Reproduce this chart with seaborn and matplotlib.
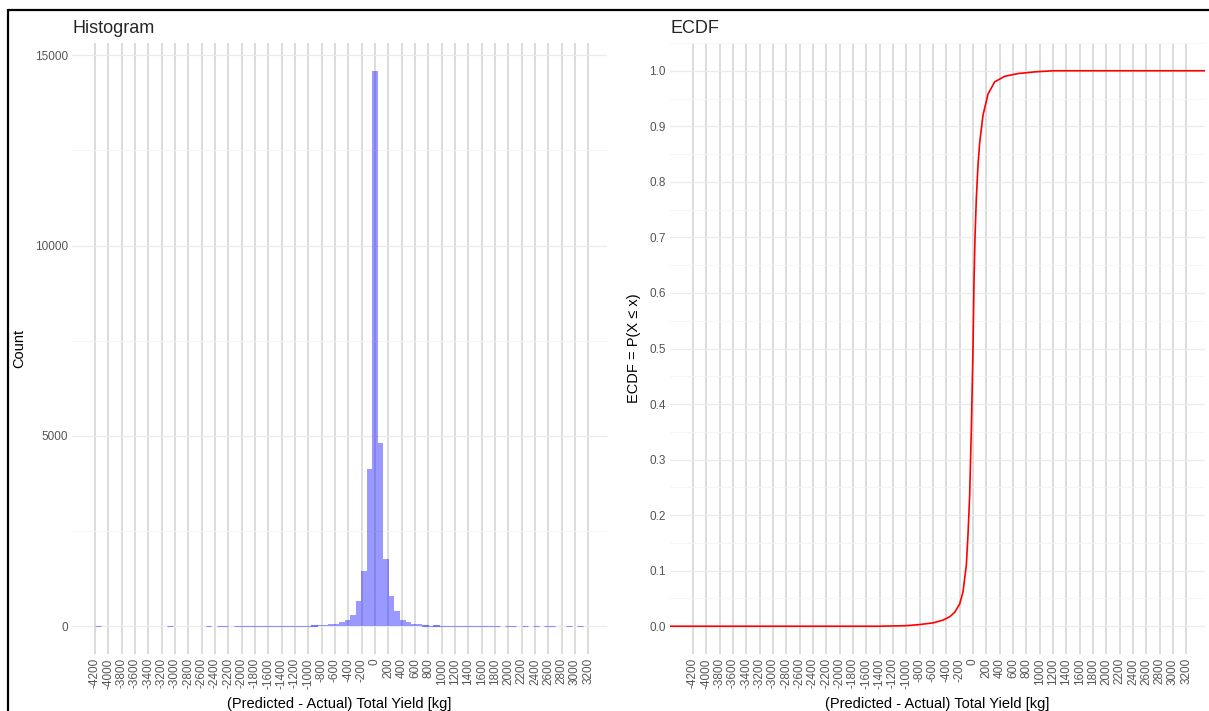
import numpy as np
import pandas as pd
import matplotlib
matplotlib.use('Agg')
import matplotlib.pyplot as plt
from matplotlib.lines import Line2D
import seaborn as sns

# Histogram: counts per bin, bins spanning the data range
hist_lo = -4200
hist_hi = 3120
hist_counts = [4, 0, 0, 0, 0, 0, 0, 0, 0, 0, 0, 0, 0, 3, 0, 0, 0, 0, 0, 0,
               3, 0, 3, 3, 0, 4, 5, 4, 6, 5, 6, 7, 8, 9, 10, 12, 13, 15, 18,
               25, 30, 40, 55, 70, 120, 170, 300, 655, 1460, 4130, 14590,
               4820, 1765, 806, 403, 170, 100, 60, 50, 25, 15, 25,
               12, 10, 9, 8, 7, 6, 5, 5, 4, 4, 3, 0, 3, 3, 0, 3, 0, 3, 0,
               3, 3, 0, 0, 3, 0, 3]

# ECDF curve
ecdf_x = [-4545, -1400, -1000, -800, -600, -450, -350, -275, -200, -150,
          -100, -75, -50, -25, 0, 15, 30, 50, 75, 100, 150, 225, 325, 475,
          675, 925, 1200, 3480]
ecdf_y = [0.0, 0.0, 0.001, 0.003, 0.006, 0.011, 0.017, 0.025, 0.04, 0.062,
          0.11, 0.165, 0.235, 0.355, 0.5, 0.62, 0.7, 0.77, 0.83, 0.87,
          0.92, 0.958, 0.98, 0.99, 0.995, 0.998, 1.0, 1.0]

x_ticks = list(range(-4200, 3201, 200))
count_ticks = [0, 5000, 10000, 15000]
count_minor = [2500, 7500, 12500]
ecdf_ticks = [round(v * 0.1, 1) for v in range(11)]
ecdf_minor = [round(0.05 + v * 0.1, 2) for v in range(10)] + [1.05]

x_label = '(Predicted - Actual) Total Yield [kg]'

sns.set_style('white')
plt.rcParams['font.family'] = ['Liberation Sans', 'DejaVu Sans']

W, H = 1209, 711
fig = plt.figure(figsize=(W / 100, H / 100), dpi=100)

ax1 = fig.add_axes([72 / W, 1 - 654 / H, 535 / W, 611 / H])
ax2 = fig.add_axes([670 / W, 1 - 654 / H, 535 / W, 611 / H])


def style_axis(ax, yticks, yminor, ylim, ylabel, ylabel_x, title, fmt):
    ax.set_xlim(-4545, 3480)
    ax.set_ylim(*ylim)
    ax.set_xticks(x_ticks)
    ax.set_xticklabels([str(t) for t in x_ticks], rotation=90,
                       fontsize=8.5, color='#555555')
    ax.set_yticks(yticks)
    ax.set_yticklabels([fmt(t) for t in yticks], fontsize=8.5,
                       color='#555555')
    ax.set_yticks(yminor, minor=True)
    ax.tick_params(axis='both', which='both', length=0, pad=3)
    ax.set_axisbelow(True)
    ax.grid(axis='x', which='major', color='#d6d6d6', linewidth=1.2)
    ax.grid(axis='y', which='major', color='#ebebeb', linewidth=0.9)
    ax.grid(axis='y', which='minor', color='#f4f4f4', linewidth=0.6)
    for s in ax.spines.values():
        s.set_visible(False)
    ax.set_xlabel(x_label, fontsize=10.5, color='black')
    ax.xaxis.set_label_coords(0.5, -0.071)
    ax.set_ylabel(ylabel, fontsize=10.5, color='black')
    ax.yaxis.set_label_coords(ylabel_x, 0.5)
    ax.set_title(title, loc='left', fontsize=13, pad=7)


# Histogram panel
bin_edges = np.linspace(hist_lo, hist_hi, len(hist_counts) + 1)
hist_df = pd.DataFrame({
    'center': (bin_edges[:-1] + bin_edges[1:]) / 2,
    'count': hist_counts,
})
sns.histplot(data=hist_df, x='center', weights='count',
             bins=list(bin_edges), color='blue', alpha=0.4, linewidth=0,
             ax=ax1)
for p in ax1.patches:
    if 0 < p.get_height() < 30:
        p.set_alpha(None)
        p.set_facecolor((0, 0, 1, 0.4))
        p.set_edgecolor((0, 0, 1, 0.4))
        p.set_linewidth(0.8)
style_axis(ax1, count_ticks, count_minor, (-730, 15320), 'Count', -0.086,
           'Histogram', lambda t: str(t))

# ECDF panel
sns.lineplot(x=ecdf_x, y=ecdf_y, color='red', linewidth=1.2, ax=ax2)
style_axis(ax2, ecdf_ticks, ecdf_minor, (-0.05, 1.05),
           'ECDF = P(X \u2264 x)', -0.055, 'ECDF', lambda t: f'{t:.1f}')

# screenshot frame
fig.add_artist(Line2D([8 / W, 1], [1 - 10 / H, 1 - 10 / H],
                      color='black', linewidth=1.6))
fig.add_artist(Line2D([8 / W, 8 / W], [0, 1 - 10 / H],
                      color='black', linewidth=1.6))

fig.savefig('out.png', dpi=100)
